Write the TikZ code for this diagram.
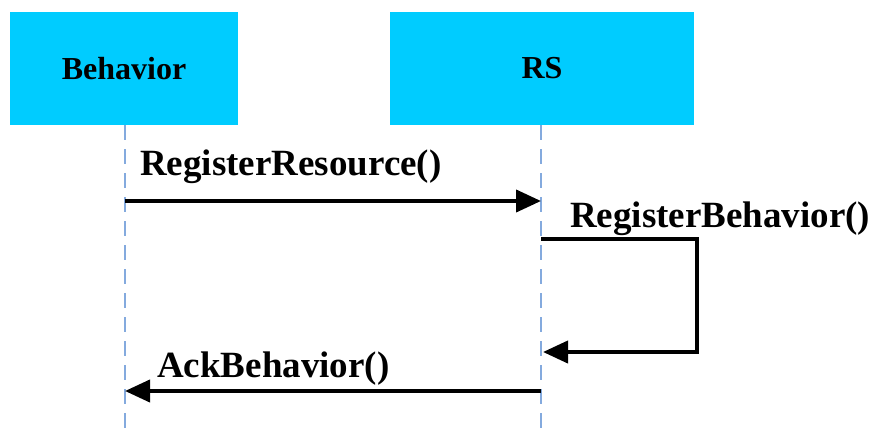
\documentclass[tikz,border=0pt]{standalone}
\usepackage{fontspec}
\setmainfont{Liberation Serif}
\usetikzlibrary{arrows.meta}
\definecolor{objfill}{RGB}{0,204,255}
\definecolor{lifeblue}{RGB}{132,170,222}
\begin{document}
\begin{tikzpicture}[x=1pt,y=-1pt,
  objbox/.style={draw=none,fill=objfill,minimum width=#1,minimum height=113pt,
    inner sep=0pt,font=\fontsize{32}{34}\selectfont\bfseries},
  lifeline/.style={draw=lifeblue,line width=2pt,dash pattern=on 15pt off 9pt},
  msg/.style={draw=black,line width=4pt,miter limit=10,
    -{Triangle[length=25pt,width=22pt]}},
  msglabel/.style={anchor=base west,inner sep=0pt,
    font=\fontsize{37}{40}\selectfont\bfseries}]
  % canvas
  \useasboundingbox (0,0) rectangle (874,428);
  \fill[white] (0,0) rectangle (874,428);

  % participants
  \node[objbox=228pt] (beh) at (124,68.5) {Behavior};
  \node[objbox=304pt] (rs)  at (542,68.5) {RS};

  % lifelines
  \coordinate (behEnd) at (125,428);
  \coordinate (rsEnd)  at (541,428);
  \draw[lifeline] (beh.south -| behEnd) -- (behEnd);
  \draw[lifeline] (rs.south -| rsEnd) -- (rsEnd);

  % message anchor points on the lifelines
  \coordinate (m1s) at (125,201);
  \coordinate (m1e) at (541,201);
  \coordinate (m2s) at (541,239);
  \coordinate (m2e) at (543,352);
  \coordinate (m3s) at (541,391);
  \coordinate (m3e) at (125,391);

  % messages
  \draw[msg] (m1s) -- (m1e);
  \node[msglabel] (l1) at (140,175) {RegisterResource()};

  \draw[msg] (m2s) -- (697,239) -- (697,352) -- (m2e);
  \node[msglabel] (l2) at (570,227) {RegisterBehavior()};

  \draw[msg] (m3s) -- (m3e);
  \node[msglabel] (l3) at (157,377) {AckBehavior()};
\end{tikzpicture}
\end{document}
